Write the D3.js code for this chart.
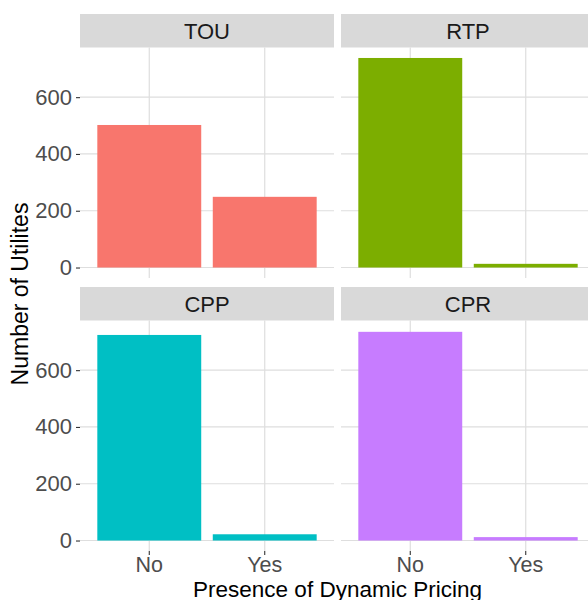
<!DOCTYPE html>
<html>
<head>
<meta charset="utf-8">
<script src="https://cdn.jsdelivr.net/npm/d3@7"></script>
<style>
  html, body { margin: 0; padding: 0; background: #ffffff; }
  svg { display: block; font-family: "Liberation Sans", Arial, Helvetica, sans-serif; }
</style>
</head>
<body>
<svg id="chart" width="588" height="600"></svg>
<script>
// ---- data ----
const programs = ["TOU", "RTP", "CPP", "CPR"];
const categories = ["No", "Yes"];
const noCounts = [502, 738, 724, 735];
const yesCounts = [249, 13, 22, 12];
const programColors = ["#F8766D", "#7CAE00", "#00BFC4", "#C77CFF"];
const yTicks = [0, 200, 400, 600];
const xTitle = "Presence of Dynamic Pricing";
const yTitle = "Number of Utilites";

// ---- layout ----
const svg = d3.select("#chart");
const panelW = 254, panelH = 230.5, stripH = 33.5;
const colX = [80, 341];
const rowStripY = [14, 287];

const maxV = d3.max(noCounts.concat(yesCounts));
const y = d3.scaleLinear()
  .domain([-0.05 * maxV, maxV * 1.05])
  .range([panelH, 0]);
const x = d3.scaleBand()
  .domain(categories)
  .range([0, panelW])
  .paddingInner(0.1)
  .paddingOuter(0.15);

programs.forEach((p, i) => {
  const col = i % 2, row = Math.floor(i / 2);
  const px = colX[col];
  const sy = rowStripY[row];
  const py = sy + stripH;
  const g = svg.append("g").attr("transform", `translate(${px},${py})`);

  // strip
  svg.append("rect")
    .attr("x", px).attr("y", sy).attr("width", panelW).attr("height", stripH)
    .attr("fill", "#D9D9D9");
  svg.append("text")
    .attr("x", px + panelW / 2).attr("y", sy + stripH / 2)
    .attr("dy", "0.36em")
    .attr("text-anchor", "middle")
    .attr("font-size", 22)
    .attr("fill", "#1A1A1A")
    .text(p);

  // grid
  g.selectAll("line.hgrid").data(yTicks).enter().append("line")
    .attr("x1", 0).attr("x2", panelW)
    .attr("y1", d => y(d)).attr("y2", d => y(d))
    .attr("stroke", "#DEDEDE").attr("stroke-width", 1.2);
  g.selectAll("line.vgrid").data(categories).enter().append("line")
    .attr("x1", d => x(d) + x.bandwidth() / 2).attr("x2", d => x(d) + x.bandwidth() / 2)
    .attr("y1", 0).attr("y2", panelH)
    .attr("stroke", "#DEDEDE").attr("stroke-width", 1.2);

  // bars
  const vals = [noCounts[i], yesCounts[i]];
  g.selectAll("rect.bar").data(categories).enter().append("rect")
    .attr("x", d => x(d))
    .attr("width", x.bandwidth())
    .attr("y", (d, j) => y(vals[j]))
    .attr("height", (d, j) => y(0) - y(vals[j]))
    .attr("fill", programColors[i]);

  // y axis on left column
  if (col === 0) {
    const ya = g.append("g")
      .call(d3.axisLeft(y).tickValues(yTicks).tickSize(4).tickPadding(4));
    ya.select(".domain").remove();
    ya.selectAll(".tick line").attr("stroke", "#333333").attr("stroke-width", 1.1);
    ya.selectAll(".tick text").attr("font-size", 22).attr("fill", "#4D4D4D")
      .attr("font-family", "Liberation Sans, Arial, sans-serif");
  }
  // x axis on bottom row
  if (row === 1) {
    const xa = g.append("g").attr("transform", `translate(0,${panelH})`)
      .call(d3.axisBottom(x).tickSize(4).tickPadding(1.5));
    xa.select(".domain").remove();
    xa.selectAll(".tick line").attr("stroke", "#333333").attr("stroke-width", 1.1);
    xa.selectAll(".tick text").attr("font-size", 21.5).attr("fill", "#4D4D4D")
      .attr("font-family", "Liberation Sans, Arial, sans-serif");
  }
});

// axis titles
svg.append("text")
  .attr("x", (colX[0] + colX[1] + panelW) / 2)
  .attr("y", 596.5)
  .attr("text-anchor", "middle")
  .attr("font-size", 22.5)
  .attr("fill", "#000000")
  .text(xTitle);

svg.append("text")
  .attr("transform", "translate(28,294) rotate(-90)")
  .attr("text-anchor", "middle")
  .attr("font-size", 23)
  .attr("fill", "#000000")
  .text(yTitle);
</script>
</body>
</html>
